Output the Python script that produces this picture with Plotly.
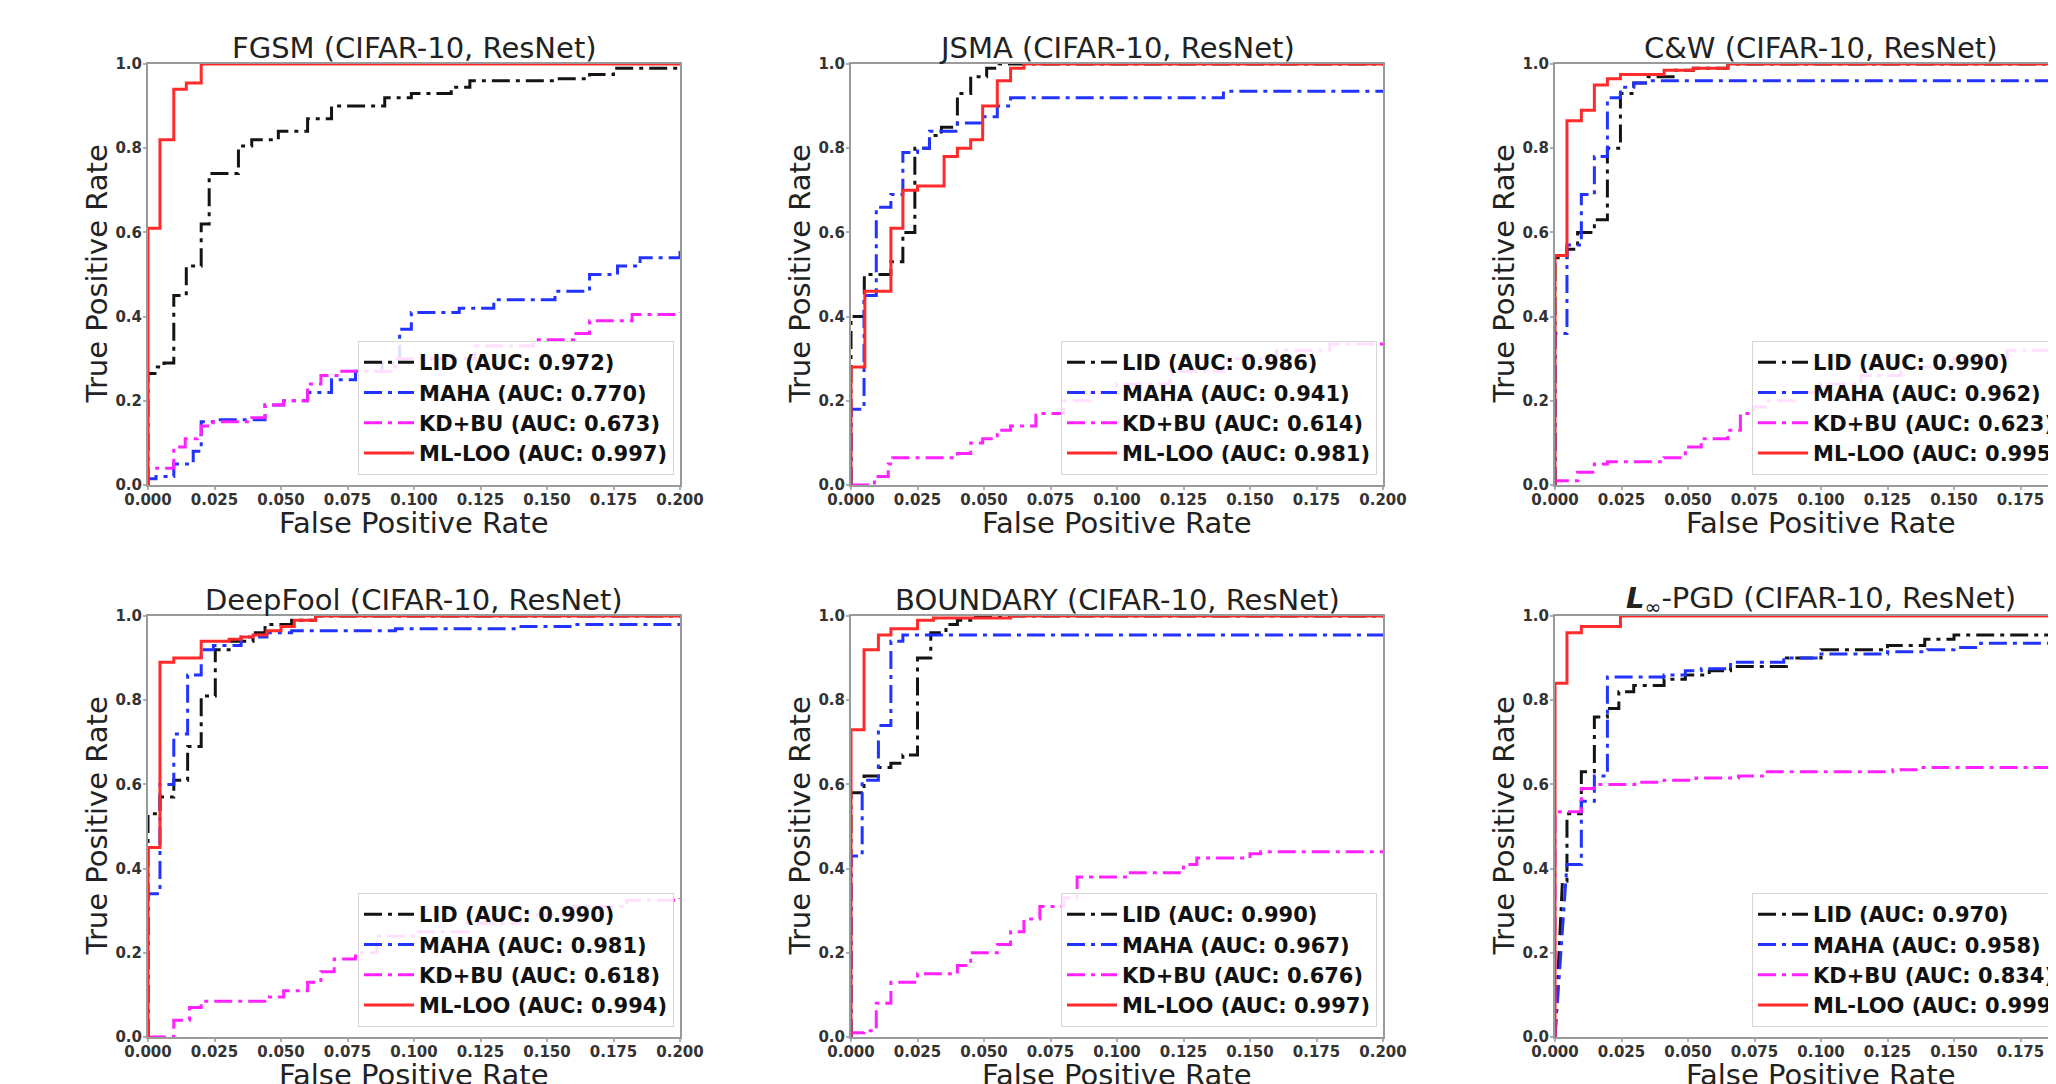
import plotly.graph_objects as go

# ---------------- data ----------------
METHODS = ["LID", "MAHA", "KD+BU", "ML-LOO"]
TITLES = ["FGSM (CIFAR-10, ResNet)", "JSMA (CIFAR-10, ResNet)", "C&W (CIFAR-10, ResNet)",
          "DeepFool (CIFAR-10, ResNet)", "BOUNDARY (CIFAR-10, ResNet)",
          "<b><i>L</i></b><sub>∞</sub>-PGD (CIFAR-10, ResNet)"]
X_TITLE = "False Positive Rate"
Y_TITLE = "True Positive Rate"
X_TICKS = [0.0, 0.025, 0.05, 0.075, 0.1, 0.125, 0.15, 0.175, 0.2]
Y_TICKS = [0.0, 0.2, 0.4, 0.6, 0.8, 1.0]

AUC_FGSM = [0.972, 0.770, 0.673, 0.997]
AUC_JSMA = [0.986, 0.941, 0.614, 0.981]
AUC_CW = [0.990, 0.962, 0.623, 0.995]
AUC_DEEPFOOL = [0.990, 0.981, 0.618, 0.994]
AUC_BOUNDARY = [0.990, 0.967, 0.676, 0.997]
AUC_PGD = [0.970, 0.958, 0.834, 0.999]

# each (fpr, tpr) pair: at that FPR the TPR steps up to the value
FGSM_LID_FPR = [0.0, 0.0035, 0.006, 0.0097, 0.0144, 0.020, 0.023, 0.034, 0.039, 0.049, 0.060, 0.069, 0.089, 0.099, 0.114, 0.121, 0.153, 0.166, 0.175, 0.200]
FGSM_LID_TPR = [0.265, 0.28, 0.29, 0.45, 0.52, 0.62, 0.74, 0.805, 0.82, 0.84, 0.87, 0.90, 0.92, 0.93, 0.945, 0.96, 0.965, 0.975, 0.99, 1.0]
FGSM_MAHA_FPR = [0.0, 0.003, 0.0097, 0.017, 0.020, 0.0245, 0.044, 0.051, 0.060, 0.069, 0.078, 0.088, 0.0946, 0.099, 0.117, 0.130, 0.153, 0.166, 0.1765, 0.185, 0.200]
FGSM_MAHA_TPR = [0.015, 0.02, 0.05, 0.08, 0.15, 0.155, 0.19, 0.20, 0.22, 0.25, 0.27, 0.29, 0.37, 0.41, 0.42, 0.44, 0.46, 0.50, 0.52, 0.54, 0.57]
FGSM_KD_FPR = [0.0, 0.0097, 0.014, 0.0186, 0.020, 0.0245, 0.039, 0.044, 0.051, 0.060, 0.065, 0.072, 0.093, 0.123, 0.145, 0.160, 0.166, 0.182, 0.200]
FGSM_KD_TPR = [0.04, 0.09, 0.11, 0.12, 0.14, 0.15, 0.16, 0.19, 0.20, 0.24, 0.26, 0.27, 0.30, 0.33, 0.345, 0.36, 0.39, 0.405, 0.41]
FGSM_LOO_FPR = [0.0, 0.0045, 0.0097, 0.0144, 0.020, 0.200]
FGSM_LOO_TPR = [0.61, 0.82, 0.94, 0.955, 1.0, 1.0]

JSMA_LID_FPR = [0.0, 0.0050, 0.0095, 0.015, 0.0195, 0.024, 0.0295, 0.034, 0.040, 0.045, 0.051, 0.0557, 0.200]
JSMA_LID_TPR = [0.40, 0.50, 0.50, 0.53, 0.60, 0.80, 0.83, 0.85, 0.93, 0.97, 0.99, 1.0, 1.0]
JSMA_MAHA_FPR = [0.0, 0.0049, 0.0095, 0.015, 0.0195, 0.025, 0.0295, 0.040, 0.0495, 0.055, 0.060, 0.140, 0.200]
JSMA_MAHA_TPR = [0.18, 0.45, 0.66, 0.69, 0.79, 0.80, 0.84, 0.86, 0.875, 0.90, 0.92, 0.935, 0.935]
JSMA_KD_FPR = [0.0088, 0.014, 0.0157, 0.040, 0.045, 0.0495, 0.055, 0.060, 0.0695, 0.080, 0.090, 0.100, 0.120, 0.140, 0.160, 0.180, 0.200]
JSMA_KD_TPR = [0.02, 0.05, 0.065, 0.075, 0.10, 0.11, 0.13, 0.14, 0.17, 0.20, 0.22, 0.24, 0.27, 0.30, 0.32, 0.335, 0.34]
JSMA_LOO_FPR = [0.0, 0.0052, 0.015, 0.0195, 0.025, 0.035, 0.040, 0.045, 0.0495, 0.055, 0.060, 0.065, 0.200]
JSMA_LOO_TPR = [0.28, 0.46, 0.61, 0.70, 0.71, 0.78, 0.80, 0.82, 0.90, 0.96, 0.99, 1.0, 1.0]

CW_LID_FPR = [0.0, 0.0045, 0.0085, 0.0148, 0.0197, 0.0246, 0.0296, 0.035, 0.045, 0.052, 0.065, 0.200]
CW_LID_TPR = [0.54, 0.56, 0.60, 0.63, 0.80, 0.93, 0.955, 0.97, 0.985, 0.99, 1.0, 1.0]
CW_MAHA_FPR = [0.0, 0.0045, 0.0099, 0.0148, 0.0197, 0.0246, 0.0296, 0.035, 0.200]
CW_MAHA_TPR = [0.36, 0.57, 0.69, 0.78, 0.92, 0.945, 0.955, 0.96, 0.96]
CW_KD_FPR = [0.0, 0.0085, 0.0148, 0.0197, 0.041, 0.049, 0.055, 0.065, 0.0697, 0.0746, 0.080, 0.090, 0.100, 0.115, 0.130, 0.150, 0.170, 0.190, 0.200]
CW_KD_TPR = [0.01, 0.03, 0.05, 0.055, 0.065, 0.09, 0.11, 0.13, 0.17, 0.185, 0.20, 0.22, 0.24, 0.26, 0.28, 0.30, 0.32, 0.33, 0.335]
CW_LOO_FPR = [0.0, 0.0045, 0.0099, 0.0148, 0.0197, 0.0246, 0.041, 0.052, 0.065, 0.200]
CW_LOO_TPR = [0.545, 0.865, 0.89, 0.95, 0.965, 0.975, 0.985, 0.99, 1.0, 1.0]

DF_LID_FPR = [0.0, 0.0045, 0.0097, 0.0149, 0.020, 0.0253, 0.0305, 0.0395, 0.044, 0.054, 0.063, 0.200]
DF_LID_TPR = [0.53, 0.57, 0.61, 0.69, 0.81, 0.92, 0.94, 0.96, 0.98, 0.99, 1.0, 1.0]
DF_MAHA_FPR = [0.0, 0.0045, 0.0097, 0.0149, 0.020, 0.0246, 0.035, 0.0447, 0.054, 0.093, 0.139, 0.160, 0.200]
DF_MAHA_TPR = [0.34, 0.60, 0.72, 0.86, 0.92, 0.93, 0.95, 0.96, 0.965, 0.97, 0.975, 0.98, 0.98]
DF_KD_FPR = [0.0097, 0.0156, 0.020, 0.045, 0.051, 0.060, 0.065, 0.070, 0.078, 0.086, 0.100, 0.120, 0.140, 0.160, 0.180, 0.200]
DF_KD_TPR = [0.04, 0.07, 0.085, 0.095, 0.11, 0.13, 0.155, 0.185, 0.20, 0.24, 0.25, 0.27, 0.29, 0.31, 0.325, 0.33]
DF_LOO_FPR = [0.0, 0.0045, 0.0097, 0.020, 0.0305, 0.035, 0.0395, 0.0447, 0.050, 0.055, 0.063, 0.200]
DF_LOO_TPR = [0.45, 0.89, 0.90, 0.94, 0.945, 0.95, 0.955, 0.965, 0.975, 0.99, 1.0, 1.0]

BD_LID_FPR = [0.0, 0.0049, 0.0103, 0.015, 0.0195, 0.025, 0.030, 0.0357, 0.040, 0.045, 0.200]
BD_LID_TPR = [0.58, 0.62, 0.64, 0.65, 0.67, 0.90, 0.96, 0.98, 0.99, 1.0, 1.0]
BD_MAHA_FPR = [0.0, 0.0042, 0.0103, 0.015, 0.0195, 0.200]
BD_MAHA_TPR = [0.43, 0.61, 0.74, 0.94, 0.955, 0.955]
BD_KD_FPR = [0.0, 0.0049, 0.0095, 0.015, 0.025, 0.040, 0.045, 0.055, 0.060, 0.065, 0.071, 0.080, 0.085, 0.105, 0.125, 0.130, 0.150, 0.154, 0.200]
BD_KD_TPR = [0.01, 0.015, 0.08, 0.13, 0.15, 0.17, 0.20, 0.22, 0.25, 0.28, 0.31, 0.33, 0.38, 0.39, 0.41, 0.425, 0.435, 0.44, 0.44]
BD_LOO_FPR = [0.0, 0.0049, 0.0103, 0.015, 0.025, 0.031, 0.060, 0.200]
BD_LOO_TPR = [0.73, 0.92, 0.955, 0.97, 0.99, 0.995, 1.0, 1.0]

PGD_LID_FPR = [0.0028, 0.0045, 0.0099, 0.0148, 0.0197, 0.024, 0.0296, 0.041, 0.049, 0.058, 0.066, 0.087, 0.100, 0.125, 0.139, 0.150, 0.200]
PGD_LID_TPR = [0.37, 0.53, 0.63, 0.76, 0.78, 0.82, 0.835, 0.85, 0.86, 0.87, 0.88, 0.90, 0.92, 0.93, 0.945, 0.955, 0.96]
PGD_MAHA_FPR = [0.0045, 0.0099, 0.0148, 0.0197, 0.041, 0.049, 0.055, 0.066, 0.086, 0.100, 0.125, 0.140, 0.150, 0.160, 0.200]
PGD_MAHA_TPR = [0.41, 0.56, 0.62, 0.855, 0.86, 0.87, 0.875, 0.89, 0.90, 0.91, 0.915, 0.92, 0.925, 0.935, 0.94]
PGD_KD_FPR = [0.0, 0.0099, 0.0148, 0.030, 0.041, 0.053, 0.069, 0.079, 0.127, 0.137, 0.200]
PGD_KD_TPR = [0.535, 0.59, 0.60, 0.605, 0.61, 0.615, 0.62, 0.63, 0.635, 0.64, 0.64]
PGD_LOO_FPR = [0.0, 0.0045, 0.0099, 0.0246, 0.200]
PGD_LOO_TPR = [0.84, 0.96, 0.975, 1.0, 1.0]

# ---------------- assembly ----------------
PANELS = [
    (AUC_FGSM, [(FGSM_LID_FPR, FGSM_LID_TPR), (FGSM_MAHA_FPR, FGSM_MAHA_TPR), (FGSM_KD_FPR, FGSM_KD_TPR), (FGSM_LOO_FPR, FGSM_LOO_TPR)]),
    (AUC_JSMA, [(JSMA_LID_FPR, JSMA_LID_TPR), (JSMA_MAHA_FPR, JSMA_MAHA_TPR), (JSMA_KD_FPR, JSMA_KD_TPR), (JSMA_LOO_FPR, JSMA_LOO_TPR)]),
    (AUC_CW, [(CW_LID_FPR, CW_LID_TPR), (CW_MAHA_FPR, CW_MAHA_TPR), (CW_KD_FPR, CW_KD_TPR), (CW_LOO_FPR, CW_LOO_TPR)]),
    (AUC_DEEPFOOL, [(DF_LID_FPR, DF_LID_TPR), (DF_MAHA_FPR, DF_MAHA_TPR), (DF_KD_FPR, DF_KD_TPR), (DF_LOO_FPR, DF_LOO_TPR)]),
    (AUC_BOUNDARY, [(BD_LID_FPR, BD_LID_TPR), (BD_MAHA_FPR, BD_MAHA_TPR), (BD_KD_FPR, BD_KD_TPR), (BD_LOO_FPR, BD_LOO_TPR)]),
    (AUC_PGD, [(PGD_LID_FPR, PGD_LID_TPR), (PGD_MAHA_FPR, PGD_MAHA_TPR), (PGD_KD_FPR, PGD_KD_TPR), (PGD_LOO_FPR, PGD_LOO_TPR)]),
]
# curves whose first segment rises diagonally from the origin
DIAGONAL_START = {(5, 0), (5, 1)}

COLORS = ["#141414", "#2233ff", "#ff22ff", "#ff2a2a"]
DASHES = ["18px,6px,4px,6px", "18px,6px,4px,6px", "18px,6px,4px,6px", "solid"]
WIDTHS = [3, 3, 3, 3]

# page geometry (the page body has an 8 px margin)
PAGE_W, PAGE_H, BODY = 2056, 1084, 8
W, H = PAGE_W - BODY, PAGE_H - BODY
COL_LEFT = [148, 851, 1555]   # page pixels
ROW_TOP = [64, 616]
PW, PH = 532, 421
FONT = "DejaVu Sans"


def fx(p):
    return (p - BODY) / W


def fy(p):
    return 1 - (p - BODY) / H


def stair(fpr, tpr, diagonal=False):
    xs, ys = [0.0], [0.0]
    for i, (x, y) in enumerate(zip(fpr, tpr)):
        if i == 0 and diagonal:
            xs.append(x); ys.append(y)
            continue
        xs.append(x); ys.append(ys[-1])
        xs.append(x); ys.append(y)
    return xs, ys


fig = go.Figure()
layout = dict(width=W, height=H, autosize=False,
              margin=dict(l=0, r=0, t=0, b=0, pad=0, autoexpand=False),
              paper_bgcolor="white", plot_bgcolor="white", annotations=[])

title_font = dict(family=FONT, size=29, color="#222")

for i, (aucs, curves) in enumerate(PANELS):
    r, c = divmod(i, 3)
    left, top = COL_LEFT[c], ROW_TOP[r]
    right = min(left + PW, PAGE_W)
    clipped = right < left + PW
    xmax = 0.2 * (right - left) / PW
    sfx = "" if i == 0 else str(i + 1)
    leg = "legend" if i == 0 else "legend%d" % (i + 1)

    for k, (fpr, tpr) in enumerate(curves):
        xs, ys = stair(fpr, tpr, (i, k) in DIAGONAL_START)
        fig.add_trace(go.Scatter(
            x=xs, y=ys, mode="lines",
            name="%s (AUC: %.3f)" % (METHODS[k], aucs[k]),
            line=dict(color=COLORS[k], width=WIDTHS[k], dash=DASHES[k]),
            xaxis="x" + sfx, yaxis="y" + sfx, legend=leg, showlegend=True))

    axis_common = dict(showline=True, linecolor="#9a9a9a", linewidth=2, showgrid=False,
                       zeroline=False, ticks="outside", ticklen=3, tickwidth=1.5,
                       tickcolor="#b0b0b0", layer="below traces", fixedrange=True,
                       tickfont=dict(family=FONT, size=15, color="#333", weight="bold"))
    layout["xaxis" + sfx] = dict(axis_common, domain=[fx(left), fx(right)],
                                 range=[0, xmax], tickvals=X_TICKS, tickformat=".3f",
                                 mirror=True, anchor="y" + sfx, ticklabelstandoff=-3)
    layout["yaxis" + sfx] = dict(axis_common, domain=[fy(top + PH), fy(top)],
                                 range=[0, 1], tickvals=Y_TICKS, tickformat=".1f",
                                 mirror=(not clipped), anchor="x" + sfx, ticklabelstandoff=-2)

    cx = fx(left + PW / 2)
    layout["annotations"] += [
        dict(text=TITLES[i], x=cx, y=fy(top - 16), xref="paper", yref="paper",
             xanchor="center", yanchor="middle", showarrow=False, font=title_font),
        dict(text=X_TITLE, x=cx, y=fy(top + PH + 38), xref="paper", yref="paper",
             xanchor="center", yanchor="middle", showarrow=False, font=title_font),
        dict(text=Y_TITLE, x=fx(left - 52), y=fy(top + PH / 2), xref="paper", yref="paper",
             xanchor="center", yanchor="middle", textangle=-90, showarrow=False, font=title_font),
    ]

    leg_bottom = top + PH - 10
    if clipped:
        lx, lxa = fx(left + 197), "left"
    else:
        lx, lxa = fx(left + PW - 6), "right"
    layout[leg] = dict(x=lx, xanchor=lxa, y=fy(leg_bottom), yanchor="bottom",
                       bgcolor="rgba(255,255,255,0.85)", bordercolor="#d6d6d6", borderwidth=1,
                       font=dict(family=FONT, size=21, color="#111", weight="bold"),
                       itemwidth=50, tracegroupgap=0)

fig.update_layout(**layout)
fig.write_html("out.html")
